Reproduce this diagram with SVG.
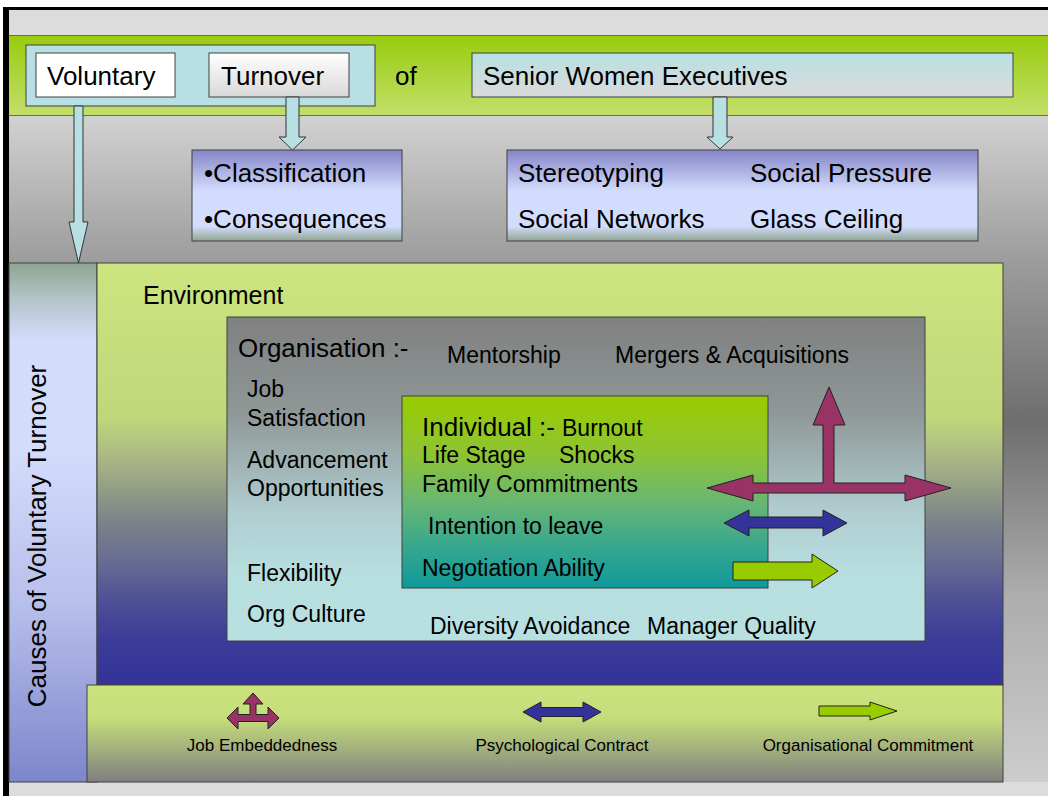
<svg xmlns="http://www.w3.org/2000/svg" width="1048" height="796" viewBox="0 0 1048 796">
<defs>
<linearGradient id="gGreenBand" x1="0" y1="0" x2="0" y2="1"><stop offset="0" stop-color="#99cc0f"/><stop offset="1" stop-color="#c2df68"/></linearGradient>
<linearGradient id="gGrayBand" x1="0" y1="0" x2="0" y2="1"><stop offset="0" stop-color="#d2d2d2"/><stop offset="0.22" stop-color="#9c9c9c"/><stop offset="0.46" stop-color="#6e6e6e"/><stop offset="0.72" stop-color="#adadad"/><stop offset="1" stop-color="#cccccc"/></linearGradient>
<linearGradient id="gWhiteGray" x1="0" y1="0" x2="0" y2="1"><stop offset="0" stop-color="#ffffff"/><stop offset="1" stop-color="#d8d8d8"/></linearGradient>
<linearGradient id="gCyanGray" x1="0" y1="0" x2="0" y2="1"><stop offset="0" stop-color="#b8e0e2"/><stop offset="1" stop-color="#dadada"/></linearGradient>
<linearGradient id="gLavender" x1="0" y1="0" x2="0" y2="1"><stop offset="0" stop-color="#8585c8"/><stop offset="0.45" stop-color="#d2dcfc"/><stop offset="0.84" stop-color="#d2dcfc"/><stop offset="1" stop-color="#8fa590"/></linearGradient>
<linearGradient id="gSide" x1="0" y1="0" x2="0" y2="1"><stop offset="0" stop-color="#8ea690"/><stop offset="0.07" stop-color="#b4c4c8"/><stop offset="0.15" stop-color="#d4dcfc"/><stop offset="0.36" stop-color="#d4dcfc"/><stop offset="0.65" stop-color="#b8c0ec"/><stop offset="1" stop-color="#7e86cc"/></linearGradient>
<linearGradient id="gEnv" x1="0" y1="0" x2="0" y2="1"><stop offset="0" stop-color="#cde57f"/><stop offset="0.37" stop-color="#c0d67a"/><stop offset="0.47" stop-color="#a8b484"/><stop offset="0.61" stop-color="#7c8488"/><stop offset="0.70" stop-color="#6a6e92"/><stop offset="0.80" stop-color="#4e5096"/><stop offset="0.89" stop-color="#3c3c98"/><stop offset="1" stop-color="#333399"/></linearGradient>
<linearGradient id="gOrg" x1="0" y1="0" x2="0" y2="1"><stop offset="0" stop-color="#808080"/><stop offset="0.3" stop-color="#8f9898"/><stop offset="0.6" stop-color="#b0cdd0"/><stop offset="0.8" stop-color="#b8dfe0"/><stop offset="1" stop-color="#b8e0e0"/></linearGradient>
<linearGradient id="gInd" x1="0" y1="0" x2="0" y2="1"><stop offset="0" stop-color="#99cc00"/><stop offset="0.3" stop-color="#8ec433"/><stop offset="0.55" stop-color="#6ab672"/><stop offset="0.8" stop-color="#34a690"/><stop offset="1" stop-color="#0e999a"/></linearGradient>
<linearGradient id="gLegend" x1="0" y1="0" x2="0" y2="1"><stop offset="0" stop-color="#cce47e"/><stop offset="0.35" stop-color="#c4dc7a"/><stop offset="1" stop-color="#7f7f7f"/></linearGradient>
</defs>
<style>
text{font-family:"Liberation Sans",Arial,sans-serif;fill:#000}
.box{stroke:#404040;stroke-width:1}
.t26{font-size:26px}
.t23{font-size:23px}
.t16{font-size:17px}
.conn{fill:#b8e0e2;stroke:#333;stroke-width:1}
.je{fill:#993366;stroke:#222;stroke-width:1}
.pc{fill:#333399;stroke:#222;stroke-width:1}
.oc{fill:#99cc00;stroke:#222;stroke-width:1}
</style>

<g id="page">
<rect x="0" y="0" width="1048" height="796" fill="#ffffff"/>
<rect x="9" y="10" width="1039" height="786" fill="#dcdcdc"/>
<rect x="9" y="115" width="1039" height="667" fill="url(#gGrayBand)"/>
<rect x="9" y="36" width="1039" height="79" fill="url(#gGreenBand)"/>
<line x1="9" y1="35.5" x2="1048" y2="35.5" stroke="#6a6a6a" stroke-width="1"/>
<line x1="9" y1="115.5" x2="1048" y2="115.5" stroke="#6a6a6a" stroke-width="1"/>
<rect x="3" y="7" width="1045" height="3" fill="#000"/>
<rect x="3" y="7" width="6" height="789" fill="#000"/>
</g>

<g id="title">
<rect x="26" y="45" width="349" height="61" fill="#b8e0e4" class="box"/>
<g id="voluntary"><rect x="36" y="53" width="139" height="44" fill="#ffffff" class="box"/><text x="47" y="85" class="t26">Voluntary</text></g>
<g id="turnover"><rect x="209" y="53" width="140" height="44" fill="url(#gWhiteGray)" class="box"/><text x="221" y="85" class="t26">Turnover</text></g>
</g>
<g id="of"><text x="395" y="85" class="t26">of</text></g>
<g id="senior"><rect x="472" y="53" width="541" height="44" fill="url(#gCyanGray)" class="box"/><text x="483" y="85" class="t26">Senior Women Executives</text></g>

<g id="classification"><rect x="192" y="150" width="210" height="91" fill="url(#gLavender)" class="box"/>
<text x="204" y="182" class="t26">•Classification</text><text x="204" y="228" class="t26">•Consequences</text></g>

<g id="stereotypes"><rect x="507" y="150" width="471" height="91" fill="url(#gLavender)" class="box"/>
<text x="518" y="182" class="t26">Stereotyping</text><text x="750" y="182" class="t26">Social Pressure</text>
<text x="518" y="228" class="t26">Social Networks</text><text x="750" y="228" class="t26">Glass Ceiling</text></g>

<g id="causes"><rect x="9" y="263" width="88" height="519" fill="url(#gSide)" class="box"/>
<text transform="translate(46,536) rotate(-90)" text-anchor="middle" class="t26">Causes of Voluntary Turnover</text></g>

<g id="environment"><rect x="97" y="263" width="906" height="422" fill="url(#gEnv)" class="box"/>
<text x="143" y="304" style="font-size:25px">Environment</text></g>

<g id="organisation"><rect x="227" y="317" width="698" height="324" fill="url(#gOrg)" class="box"/>
<text x="238" y="357" class="t26">Organisation :-</text>
<text x="447" y="363" class="t23">Mentorship</text>
<text x="615" y="363" class="t23">Mergers &amp; Acquisitions</text>
<text x="247" y="397" class="t23">Job</text>
<text x="247" y="426" class="t23">Satisfaction</text>
<text x="247" y="468" class="t23">Advancement</text>
<text x="247" y="496" class="t23">Opportunities</text>
<text x="247" y="581" class="t23">Flexibility</text>
<text x="247" y="622" class="t23">Org Culture</text>
<text x="430" y="634" class="t23">Diversity Avoidance</text>
<text x="647" y="634" class="t23">Manager Quality</text></g>

<g id="individual"><rect x="402" y="396" width="366" height="192" fill="url(#gInd)" class="box"/>
<text x="422" y="436" class="t26">Individual :-</text>
<text x="562" y="436" class="t23">Burnout</text>
<text x="422" y="463" class="t23">Life Stage</text>
<text x="559" y="463" class="t23">Shocks</text>
<text x="422" y="492" class="t23">Family Commitments</text>
<text x="428" y="534" class="t23">Intention to leave</text>
<text x="422" y="576" class="t23">Negotiation Ability</text></g>

<g id="influence-arrows">
<path class="je" d="M707,488 L753,475 L753,483 L823,483 L823,425 L813,425 L829,387 L845,425 L834,425 L834,483 L905,483 L905,475 L951,488 L905,501 L905,493 L753,493 L753,501 Z"/>
<path class="pc" d="M724,523 L749,510 L749,517 L823,517 L823,510 L847,523 L823,536 L823,528 L749,528 L749,536 Z"/>
<path class="oc" d="M733,562 L812,562 L812,554 L838,571 L812,588 L812,580 L733,580 Z"/>
</g>

<g id="legend"><rect x="87" y="685" width="916" height="97" fill="url(#gLegend)" class="box"/>
<path class="je" d="M227,718 L238,707 L238,714.5 L250,714.5 L250,704 L243,704 L253,693 L263,704 L256,704 L256,714.5 L268,714.5 L268,707 L279,718 L268,729 L268,721.5 L238,721.5 L238,729 Z"/>
<text x="262" y="751" text-anchor="middle" class="t16">Job Embeddedness</text>
<path class="pc" d="M523,712 L541,702 L541,707.5 L583,707.5 L583,702 L601,712 L583,722 L583,716.5 L541,716.5 L541,722 Z"/>
<text x="562" y="751" text-anchor="middle" class="t16">Psychological Contract</text>
<path class="oc" d="M819,706 L870,706 L870,702 L897,711 L870,720 L870,716 L819,716 Z"/>
<text x="868" y="751" text-anchor="middle" class="t16">Organisational Commitment</text></g>

<g id="connectors">
<path class="conn" d="M74,106 L83,106 L83,222 L88,222 L78.5,263 L69,222 L74,222 Z"/>
<path class="conn" d="M286,97 L299,97 L299,137 L306,137 L292.5,150 L279,137 L286,137 Z"/>
<path class="conn" d="M713,97 L727,97 L727,137 L733,137 L720,149 L707,137 L713,137 Z"/>
</g>
</svg>
